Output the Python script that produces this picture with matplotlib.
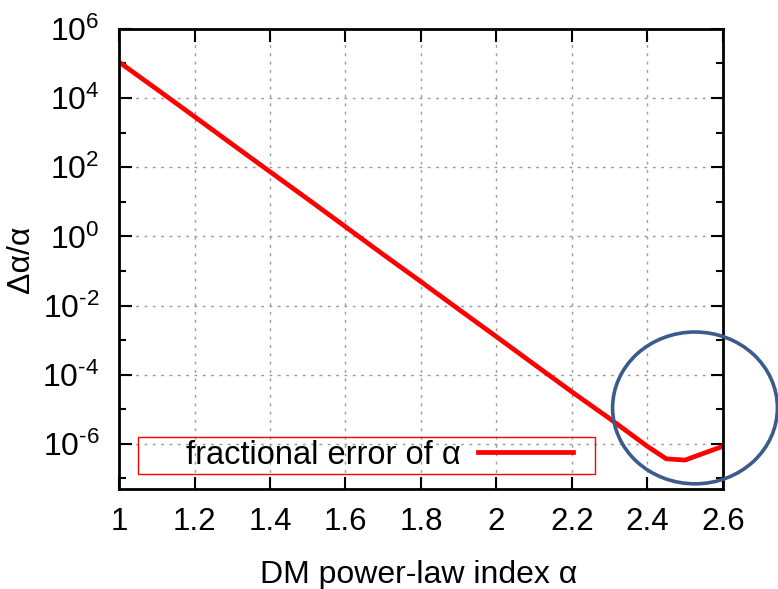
import matplotlib
matplotlib.use("Agg")
import matplotlib.pyplot as plt
from matplotlib.patches import Ellipse, Rectangle
from matplotlib.ticker import FixedLocator, NullFormatter

plt.rcParams['font.family'] = ['Liberation Sans', 'DejaVu Sans']
plt.rcParams['mathtext.fontset'] = 'custom'
plt.rcParams['mathtext.rm'] = 'Liberation Sans'
plt.rcParams['mathtext.it'] = 'Liberation Sans:italic'
plt.rcParams['axes.unicode_minus'] = False

# values
alpha = [1.0, 1.1, 1.2, 1.3, 1.4, 1.5, 1.6, 1.7, 1.8, 1.9, 2.0, 2.1, 2.2, 2.3,
         2.4, 2.45, 2.5, 2.6]
frac_err = [1.1e5, 1.8e4, 2.9e3, 4.6e2, 74, 12, 1.9, 0.30, 0.049, 7.8e-3,
            1.26e-3, 2.0e-4, 3.2e-5, 5.4e-6, 8.5e-7, 3.7e-7, 3.4e-7, 8.5e-7]

xticks = [1, 1.2, 1.4, 1.6, 1.8, 2, 2.2, 2.4, 2.6]
xticklabels = ['1', '1.2', '1.4', '1.6', '1.8', '2', '2.2', '2.4', '2.6']
yticks = [1e-6, 1e-4, 1e-2, 1e0, 1e2, 1e4, 1e6]
yticklabels = [r'$10^{\text{-}6}$', r'$10^{\text{-}4}$', r'$10^{\text{-}2}$',
               r'$10^{0}$', r'$10^{2}$', r'$10^{4}$', r'$10^{6}$']
yminor = [1e-7, 1e-5, 1e-3, 1e-1, 1e1, 1e3, 1e5]

fig = plt.figure(figsize=(7.78, 5.89), dpi=100)
ax = fig.add_axes([0.153, 0.170, 0.776, 0.781])

ax.plot(alpha, frac_err, color='red', lw=3.4, label='fractional error of α')
ax.set_yscale('log')
ax.set_xlim(1, 2.6)
ax.set_ylim(5e-8, 1e6)

ax.set_xticks(xticks)
ax.set_xticklabels(xticklabels)
ax.set_yticks(yticks)
ax.set_yticklabels(yticklabels)
ax.yaxis.set_minor_locator(FixedLocator(yminor))
ax.yaxis.set_minor_formatter(NullFormatter())
ax.xaxis.set_minor_locator(FixedLocator([]))

ax.tick_params(which='both', direction='in', top=True, right=True, width=1.5)
ax.tick_params(which='major', length=9)
ax.tick_params(which='minor', length=5)
ax.tick_params(axis='x', pad=13, labelsize=22.5)
ax.tick_params(axis='y', pad=14, labelsize=23)
for s in ax.spines.values():
    s.set_linewidth(2)

ax.grid(True, which='major', color='#999999', ls=(0, (2, 4)), lw=1)

ax.set_xlabel('DM power-law index α', fontsize=23)
ax.set_ylabel('Δα/α', fontsize=23, va='center')
ax.xaxis.set_label_coords(0.497, -0.155)
ax.yaxis.set_label_coords(-0.162, 0.5)

# legend: text first, sample line after it, inside a thin red box
leg = ax.legend(loc='center', bbox_to_anchor=(0.431, 0.073), fontsize=23.5,
                markerfirst=False, handlelength=2.9, handletextpad=0.55,
                frameon=False, borderpad=0, borderaxespad=0)
ax.add_patch(Rectangle((0.031, 0.033), 0.757, 0.080, transform=ax.transAxes,
                       fill=False, ec='red', lw=1, zorder=5))

# highlight circle drawn on the chart
ell = Ellipse((0.954, 0.176), 0.273, 0.33, transform=ax.transAxes,
              fill=False, ec='#3b5b8c', lw=2.6, clip_on=False, zorder=6)
ax.add_patch(ell)

plt.savefig('out.png', dpi=100)
